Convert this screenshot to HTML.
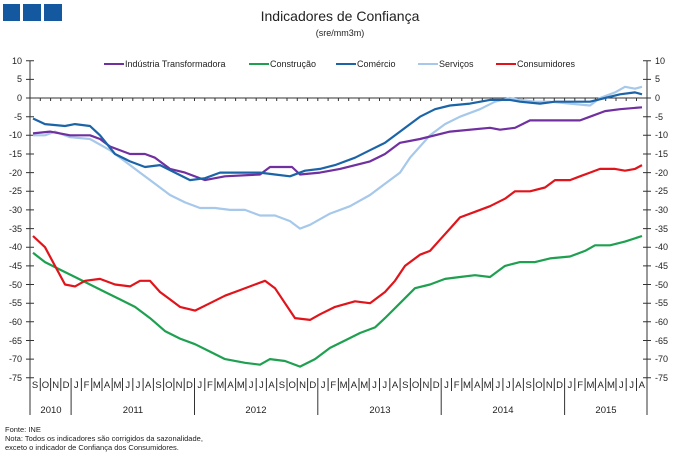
<!DOCTYPE html>
<html><head><meta charset="utf-8"><style>
body{margin:0;background:#fff}
svg{display:block;font-family:"Liberation Sans",sans-serif}
</style></head><body>
<svg width="679" height="463" viewBox="0 0 679 463">
<rect x="3" y="4" width="17" height="17" fill="#1458a0"/>
<rect x="23" y="4" width="18" height="17" fill="#1458a0"/>
<rect x="44" y="4" width="18" height="17" fill="#1458a0"/>
<text x="340" y="21" font-size="14" text-anchor="middle" fill="#222">Indicadores de Confiança</text>
<text x="340" y="36" font-size="9" text-anchor="middle" fill="#222">(sre/mm3m)</text>
<g font-size="9" fill="#222">
<line x1="104" y1="64" x2="124" y2="64" stroke="#7030a0" stroke-width="2"/><text x="125" y="67">Indústria Transformadora</text>
<line x1="249" y1="64" x2="269" y2="64" stroke="#1ea050" stroke-width="2"/><text x="270" y="67">Construção</text>
<line x1="336" y1="64" x2="356" y2="64" stroke="#1c64a8" stroke-width="2"/><text x="357" y="67">Comércio</text>
<line x1="418" y1="64" x2="438" y2="64" stroke="#a6c8ea" stroke-width="2"/><text x="439" y="67">Serviços</text>
<line x1="496" y1="64" x2="516" y2="64" stroke="#e0141a" stroke-width="2"/><text x="517" y="67">Consumidores</text>
</g>
<g stroke="#333" stroke-width="1" fill="none">
<line x1="30" y1="61" x2="30" y2="415"/><line x1="647" y1="61" x2="647" y2="415"/>
<line x1="30" y1="98" x2="647" y2="98"/>
<path d="M40.3 98v3M50.6 98v3M60.8 98v3M71.1 98v3M81.4 98v3M91.7 98v3M102 98v3M112.2 98v3M122.5 98v3M132.8 98v3M143.1 98v3M153.4 98v3M163.6 98v3M173.9 98v3M184.2 98v3M194.5 98v3M204.8 98v3M215 98v3M225.3 98v3M235.6 98v3M245.9 98v3M256.2 98v3M266.4 98v3M276.7 98v3M287 98v3M297.3 98v3M307.6 98v3M317.8 98v3M328.1 98v3M338.4 98v3M348.7 98v3M359 98v3M369.2 98v3M379.5 98v3M389.8 98v3M400.1 98v3M410.4 98v3M420.6 98v3M430.9 98v3M441.2 98v3M451.5 98v3M461.8 98v3M472 98v3M482.3 98v3M492.6 98v3M502.9 98v3M513.2 98v3M523.4 98v3M533.7 98v3M544 98v3M554.3 98v3M564.6 98v3M574.8 98v3M585.1 98v3M595.4 98v3M605.7 98v3M616 98v3M626.2 98v3M636.5 98v3"/>
<path d="M40.3 378v13M50.6 378v13M60.8 378v13M71.1 378v37M81.4 378v13M91.7 378v13M102 378v13M112.2 378v13M122.5 378v13M132.8 378v13M143.1 378v13M153.4 378v13M163.6 378v13M173.9 378v13M184.2 378v13M194.5 378v37M204.8 378v13M215 378v13M225.3 378v13M235.6 378v13M245.9 378v13M256.2 378v13M266.4 378v13M276.7 378v13M287 378v13M297.3 378v13M307.6 378v13M317.8 378v37M328.1 378v13M338.4 378v13M348.7 378v13M359 378v13M369.2 378v13M379.5 378v13M389.8 378v13M400.1 378v13M410.4 378v13M420.6 378v13M430.9 378v13M441.2 378v37M451.5 378v13M461.8 378v13M472 378v13M482.3 378v13M492.6 378v13M502.9 378v13M513.2 378v13M523.4 378v13M533.7 378v13M544 378v13M554.3 378v13M564.6 378v37M574.8 378v13M585.1 378v13M595.4 378v13M605.7 378v13M616 378v13M626.2 378v13M636.5 378v13"/>
<path d="M26 60.7h8M26 79.4h8M26 98h8M26 116.7h8M26 135.3h8M26 154h8M26 172.6h8M26 191.3h8M26 209.9h8M26 228.6h8M26 247.2h8M26 265.9h8M26 284.5h8M26 303.2h8M26 321.8h8M26 340.5h8M26 359.1h8M26 377.8h8 M643 60.7h8M643 79.4h8M643 98h8M643 116.7h8M643 135.3h8M643 154h8M643 172.6h8M643 191.3h8M643 209.9h8M643 228.6h8M643 247.2h8M643 265.9h8M643 284.5h8M643 303.2h8M643 321.8h8M643 340.5h8M643 359.1h8M643 377.8h8"/>
</g>
<g font-size="9" fill="#222">
<text text-anchor="end" x="22" y="64">10</text><text text-anchor="end" x="22" y="82">5</text><text text-anchor="end" x="22" y="101">0</text><text text-anchor="end" x="22" y="120">-5</text><text text-anchor="end" x="22" y="138">-10</text><text text-anchor="end" x="22" y="157">-15</text><text text-anchor="end" x="22" y="176">-20</text><text text-anchor="end" x="22" y="194">-25</text><text text-anchor="end" x="22" y="213">-30</text><text text-anchor="end" x="22" y="232">-35</text><text text-anchor="end" x="22" y="250">-40</text><text text-anchor="end" x="22" y="269">-45</text><text text-anchor="end" x="22" y="288">-50</text><text text-anchor="end" x="22" y="306">-55</text><text text-anchor="end" x="22" y="325">-60</text><text text-anchor="end" x="22" y="344">-65</text><text text-anchor="end" x="22" y="362">-70</text><text text-anchor="end" x="22" y="381">-75</text>
<text x="655" y="64">10</text><text x="655" y="82">5</text><text x="655" y="101">0</text><text x="655" y="120">-5</text><text x="655" y="138">-10</text><text x="655" y="157">-15</text><text x="655" y="176">-20</text><text x="655" y="194">-25</text><text x="655" y="213">-30</text><text x="655" y="232">-35</text><text x="655" y="250">-40</text><text x="655" y="269">-45</text><text x="655" y="288">-50</text><text x="655" y="306">-55</text><text x="655" y="325">-60</text><text x="655" y="344">-65</text><text x="655" y="362">-70</text><text x="655" y="381">-75</text>
</g>
<g font-size="9.5" fill="#222" text-anchor="middle">
<text y="388" x="35.1 45.4 55.7 66.0 76.3 86.5 96.8 107.1 117.4 127.7 138.0 148.2 158.5 168.8 179.1 189.4 199.7 209.9 220.2 230.5 240.8 251.1 261.4 271.6 281.9 292.2 302.5 312.8 323.1 333.3 343.6 353.9 364.2 374.5 384.8 395.0 405.3 415.6 425.9 436.2 446.5 456.7 467.0 477.3 487.6 497.9 508.2 518.4 528.7 539.0 549.3 559.6 569.9 580.1 590.4 600.7 611.0 621.3 631.6 641.8">SONDJFMAMJJASONDJFMAMJJASONDJFMAMJJASONDJFMAMJJASONDJFMAMJJA</text>
<text x="51" y="413">2010</text><text x="133" y="413">2011</text><text x="256" y="413">2012</text><text x="380" y="413">2013</text><text x="503" y="413">2014</text><text x="606" y="413">2015</text>
</g>
<g font-size="7.5" fill="#222">
<text x="5" y="432">Fonte: INE</text>
<text x="5" y="441">Nota: Todos os indicadores são corrigidos da sazonalidade,</text>
<text x="5" y="450">exceto o indicador de Confiança dos Consumidores.</text>
</g>
<g fill="none" stroke-width="2.2" stroke-linejoin="round">
<polyline stroke="#1ea050" points="33,252.8 45,262.1 60,269.6 75,277 90,284.5 105,292 120,299.4 135,306.9 150,318.1 165,331.1 180,338.6 195,344.2 210,351.6 225,359.1 245,362.8 260,364.7 270,359.1 285,361 300,366.6 315,359.1 330,347.9 345,340.5 360,333 375,327.4 385,318.1 400,303.2 415,288.2 430,284.5 445,278.9 460,277 475,275.2 490,277 505,265.9 520,262.1 535,262.1 550,258.4 570,256.5 585,250.9 595,245.3 610,245.3 625,241.6 642,236"/>
<polyline stroke="#e0141a" points="33,236 45,247.2 55,265.9 65,284.5 75,286.4 85,280.8 100,278.9 115,284.5 130,286.4 140,280.8 150,280.8 160,292 170,299.4 180,306.9 195,310.6 210,303.2 225,295.7 240,290.1 255,284.5 265,280.8 275,288.2 285,303.2 295,318.1 310,319.9 320,314.3 335,306.9 355,301.3 370,303.2 385,292 395,280.8 405,265.9 420,254.7 430,250.9 440,239.7 450,228.6 460,217.4 475,211.8 490,206.2 505,198.7 515,191.3 530,191.3 545,187.5 555,180.1 570,180.1 580,176.3 590,172.6 600,168.9 615,168.9 625,170.7 635,168.9 642,165.1"/>
<polyline stroke="#a6c8ea" points="33,135.3 45,135.3 55,131.6 70,137.2 90,139 110,150.2 125,161.4 140,172.6 155,183.8 170,195 185,202.4 200,208 215,208 230,209.9 245,209.9 260,215.5 275,215.5 290,221.1 300,228.6 310,224.8 330,213.6 350,206.2 370,195 385,183.8 400,172.6 410,157.7 420,146.5 430,135.3 445,124.1 460,116.7 480,109.2 495,101.7 510,98 520,99.9 535,101.7 550,101.7 570,103.6 590,105.5 600,98 615,92.4 625,86.8 635,88.7 642,86.8"/>
<polyline stroke="#7030a0" points="33,133.4 50,131.6 70,135.3 90,135.3 100,139 110,146.5 130,154 145,154 155,157.7 170,168.9 185,172.6 205,180.1 225,176.3 260,174.5 270,167 292,167 300,174.5 320,172.6 340,168.9 370,161.4 385,154 400,142.8 420,139 450,131.6 490,127.8 500,129.7 515,127.8 530,120.4 580,120.4 590,116.7 605,111.1 620,109.2 642,107.3"/>
<polyline stroke="#1c64a8" points="33,118.5 45,124.1 65,126 75,124.1 90,126 100,135.3 115,154 130,161.4 145,167 160,165.1 175,172.6 190,180.1 205,178.2 220,172.6 240,172.6 260,172.6 275,174.5 290,176.3 305,170.7 320,168.9 335,165.1 355,157.7 370,150.2 385,142.8 400,131.6 420,116.7 435,109.2 450,105.5 470,103.6 490,99.9 510,99.9 520,101.7 540,103.6 555,101.7 570,101.7 590,101.7 605,98 620,94.3 635,92.4 642,94.3"/>
</g>
</svg>
</body></html>
